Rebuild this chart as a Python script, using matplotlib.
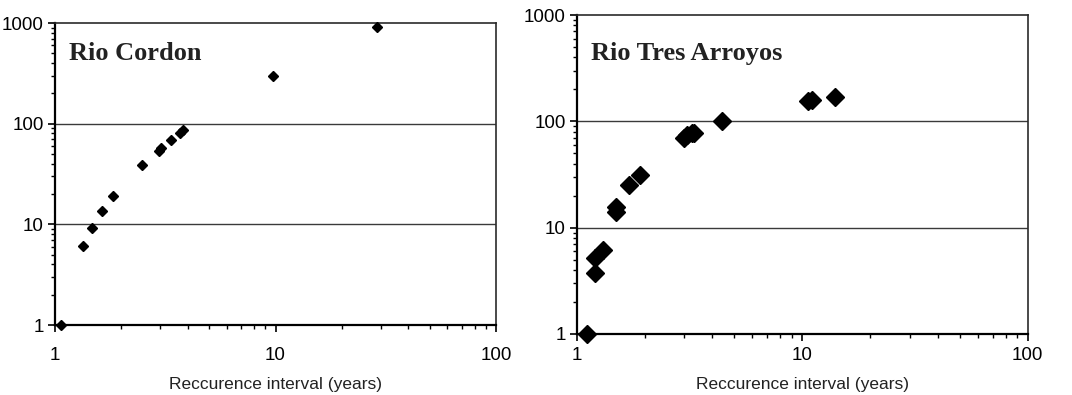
import numpy as np
import matplotlib.pyplot as plt
from matplotlib.ticker import LogLocator, NullFormatter, FixedLocator, FixedFormatter

# Rio Cordon: recurrence interval (years) vs value
cordon_x = [1.06, 1.335, 1.47, 1.64, 1.84, 2.47, 2.96, 3.01, 3.36, 3.69, 3.79, 9.7, 28.8]
cordon_y = [1.0, 6.1, 9.25, 13.6, 19.2, 39.0, 54.0, 57.0, 69.0, 80.7, 85.8, 299.0, 904.0]

# Rio Tres Arroyos
tres_x = [1.11, 1.21, 1.21, 1.31, 1.50, 1.50, 1.71, 1.91, 2.99, 3.09, 3.24, 3.31, 4.4, 10.6, 11.1, 14.0]
tres_y = [1.0, 3.77, 5.15, 6.17, 14.1, 15.7, 25.2, 31.0, 70.0, 74.0, 77.0, 77.0, 100.7, 156.0, 159.0, 171.0]

titles = ["Rio Cordon", "Rio Tres Arroyos"]
xlabel = "Reccurence interval (years)"
ticks = [1, 10, 100]
yticks = [1, 10, 100, 1000]

plt.rcParams['font.family'] = ['Liberation Sans', 'DejaVu Sans']

fig = plt.figure(figsize=(10.72, 3.95), dpi=100)
ax1 = fig.add_axes([55 / 1072, 70 / 395, 441 / 1072, 302 / 395])
ax2 = fig.add_axes([576.7 / 1072, 61 / 395, 451 / 1072, 319 / 395])

setups = [
    (ax1, cordon_x, cordon_y, titles[0], 5.5, 11, 0.878, 9.5),
    (ax2, tres_x, tres_y, titles[1], 9.5, 4, 0.86, 9.5),
]

for ax, xs, ys, title, ms, xpad, ty, lpad in setups:
    ax.set_xscale('log')
    ax.set_yscale('log')
    ax.set_xlim(1, 100)
    ax.set_ylim(1, 1000)
    for yv in [10, 100]:
        ax.axhline(yv, color='#3a3a3a', lw=1.0, zorder=1)
    ax.plot(xs, ys, ls='none', marker='D', ms=ms, color='black', mec='black', zorder=3, clip_on=False)

    ax.xaxis.set_major_locator(FixedLocator(ticks))
    ax.xaxis.set_major_formatter(FixedFormatter([str(t) for t in ticks]))
    ax.yaxis.set_major_locator(FixedLocator(yticks))
    ax.yaxis.set_major_formatter(FixedFormatter([str(t) for t in yticks]))
    ax.xaxis.set_minor_locator(LogLocator(base=10, subs=np.arange(2, 10)))
    ax.yaxis.set_minor_locator(LogLocator(base=10, subs=np.arange(2, 10)))
    ax.xaxis.set_minor_formatter(NullFormatter())
    ax.yaxis.set_minor_formatter(NullFormatter())

    ax.tick_params(axis='both', which='major', direction='out', length=5, width=1.2,
                   labelsize=13.5, color='black')
    ax.tick_params(axis='both', which='minor', direction='out', length=3, width=1.0, color='black')
    ax.tick_params(axis='x', which='major', pad=xpad)
    ax.tick_params(axis='y', which='major', pad=3)

    for side in ['left', 'bottom']:
        ax.spines[side].set_linewidth(1.6)
        ax.spines[side].set_color('black')
    for side in ['top', 'right']:
        ax.spines[side].set_linewidth(1.2)
        ax.spines[side].set_color('#2a2a2a')

    ax.set_xlabel(xlabel, fontsize=12.5, labelpad=lpad, color='#222222')
    ax.text(0.032, ty, title, transform=ax.transAxes, fontsize=19, fontweight='bold',
            family=['Liberation Serif', 'DejaVu Serif'], color='#222222')

fig.savefig('out.png', dpi=100)
